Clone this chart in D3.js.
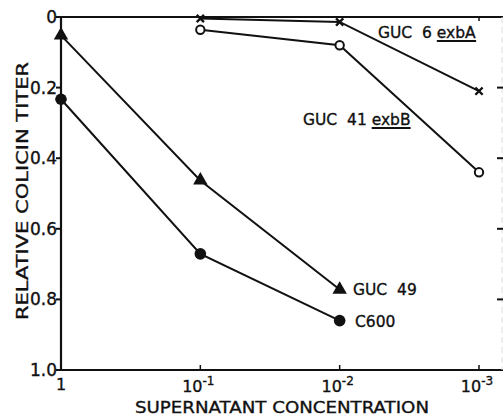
<!DOCTYPE html>
<html>
<head>
  <meta charset="utf-8">
  <script src="https://d3js.org/d3.v7.min.js"></script>
  <style>
    body { margin: 0; background: #fff; }
    text { font-family: "DejaVu Sans", "Liberation Sans", sans-serif; fill: #111; stroke: #111; stroke-width: 0.35px; white-space: pre; }
  </style>
</head>
<body>
  <div id="chart"></div>
  <script>
  // concentrations (x) and relative colicin titer (y)
  var concentrations = [1, 0.1, 0.01, 0.001];
  var yTicks = [0, 0.2, 0.4, 0.6, 0.8, 1.0];
  var yTickLabels = ["0", "0.2", "0.4", "0.6", "0.8", "1.0"];

  var guc49X = [1, 0.1, 0.01];
  var guc49Y = [0.052, 0.463, 0.772];
  var c600X = [1, 0.1, 0.01];
  var c600Y = [0.233, 0.671, 0.86];
  var guc6X = [0.1, 0.01, 0.001];
  var guc6Y = [0.004, 0.014, 0.21];
  var guc41X = [0.1, 0.01, 0.001];
  var guc41Y = [0.036, 0.08, 0.44];

  var W = 503, H = 417;
  var svg = d3.select("#chart").append("svg")
      .attr("width", W)
      .attr("height", H);

  var x = d3.scaleLog().domain([1, 0.001]).range([61, 479]);
  var y = d3.scaleLinear().domain([0, 1]).range([17, 370]);

  // frame
  svg.append("line").attr("x1", 61).attr("x2", 61).attr("y1", y(0)).attr("y2", y(1))
      .attr("stroke", "#111").attr("stroke-width", 2.2);
  svg.append("line").attr("x1", 60).attr("x2", W).attr("y1", y(1)).attr("y2", y(1))
      .attr("stroke", "#111").attr("stroke-width", 2.2);
  svg.append("line").attr("x1", 60).attr("x2", W).attr("y1", y(0)).attr("y2", y(0))
      .attr("stroke", "#111").attr("stroke-width", 2);
  svg.append("line").attr("x1", 502).attr("x2", 502).attr("y1", y(0)).attr("y2", y(1))
      .attr("stroke", "#ddd").attr("stroke-width", 1).attr("stroke-dasharray", "6,4");

  // y ticks + labels
  yTicks.forEach(function(t, i) {
    svg.append("line").attr("x1", 56).attr("x2", 61).attr("y1", y(t)).attr("y2", y(t))
        .attr("stroke", "#111").attr("stroke-width", 2);
    if (t > 0 && t < 1) {
      svg.append("line").attr("x1", 497).attr("x2", 503).attr("y1", y(t)).attr("y2", y(t))
          .attr("stroke", "#111").attr("stroke-width", 2);
    }
    svg.append("text").attr("x", 57).attr("y", y(t) + 6)
        .attr("text-anchor", "end").attr("font-size", 17)
        .text(yTickLabels[i]);
  });

  // x ticks + labels
  concentrations.forEach(function(c, i) {
    svg.append("line").attr("x1", x(c)).attr("x2", x(c)).attr("y1", y(1) - 5).attr("y2", y(1))
        .attr("stroke", "#111").attr("stroke-width", 1.5);
    if (i === 0) {
      svg.append("text").attr("x", x(c)).attr("y", 390)
          .attr("text-anchor", "middle").attr("font-size", 16).text("1");
    } else {
      var t = svg.append("text").attr("x", x(c) - 2).attr("y", 392)
          .attr("text-anchor", "middle").attr("font-size", 16);
      t.append("tspan").text("10");
      t.append("tspan").attr("dy", -7).attr("font-size", 12).text("-" + i);
    }
  });
  svg.append("line").attr("x1", x(0.001)).attr("x2", x(0.001)).attr("y1", y(0)).attr("y2", y(0) + 4)
      .attr("stroke", "#111").attr("stroke-width", 1.5);

  // axis titles
  svg.append("text").attr("x", 282).attr("y", 413)
      .attr("text-anchor", "middle").attr("font-size", 16)
      .attr("textLength", 294).attr("lengthAdjust", "spacingAndGlyphs")
      .text("SUPERNATANT CONCENTRATION");
  svg.append("text").attr("transform", "translate(28,191) rotate(-90)")
      .attr("text-anchor", "middle").attr("font-size", 16)
      .attr("textLength", 258).attr("lengthAdjust", "spacingAndGlyphs")
      .text("RELATIVE COLICIN TITER");

  var line = d3.line().x(function(d) { return x(d[0]); }).y(function(d) { return y(d[1]); });
  function pts(xs, ys) { return xs.map(function(v, i) { return [v, ys[i]]; }); }

  var series = [
    { data: pts(guc49X, guc49Y), mark: "triangle" },
    { data: pts(c600X, c600Y), mark: "dot" },
    { data: pts(guc6X, guc6Y), mark: "cross" },
    { data: pts(guc41X, guc41Y), mark: "ring" }
  ];

  series.forEach(function(s) {
    svg.append("path").attr("d", line(s.data))
        .attr("fill", "none").attr("stroke", "#111").attr("stroke-width", 2);
  });

  series.forEach(function(s) {
    s.data.forEach(function(d) {
      var cx = x(d[0]), cy = y(d[1]);
      if (s.mark === "triangle") {
        svg.append("path").attr("d", d3.symbol().type(d3.symbolTriangle).size(90)())
            .attr("transform", "translate(" + cx + "," + cy + ")").attr("fill", "#111");
      } else if (s.mark === "dot") {
        svg.append("circle").attr("cx", cx).attr("cy", cy).attr("r", 5.8).attr("fill", "#111");
      } else if (s.mark === "ring") {
        svg.append("circle").attr("cx", cx).attr("cy", cy).attr("r", 4.2)
            .attr("fill", "#fff").attr("stroke", "#111").attr("stroke-width", 2);
      } else {
        svg.append("path").attr("d", d3.symbol().type(d3.symbolX).size(36)())
            .attr("transform", "translate(" + cx + "," + cy + ")")
            .attr("fill", "none").attr("stroke", "#111").attr("stroke-width", 2.4);
      }
    });
  });

  // series labels
  function label(xp, yp, main, under, len) {
    var t = svg.append("text").attr("x", xp).attr("y", yp).attr("font-size", 15.5);
    t.append("tspan").text(main);
    if (under) {
      var u = t.append("tspan").text(under);
      var b = u.node().getBBox();
      svg.append("line").attr("x1", b.x).attr("x2", b.x + b.width)
          .attr("y1", yp + 3).attr("y2", yp + 3)
          .attr("stroke", "#111").attr("stroke-width", 2);
    }
  }
  label(378, 38, "GUC  6 ", "exbA");
  label(303, 125, "GUC  41 ", "exbB");
  label(353, 295, "GUC  49");
  label(355, 327, "C600");
  </script>
</body>
</html>
